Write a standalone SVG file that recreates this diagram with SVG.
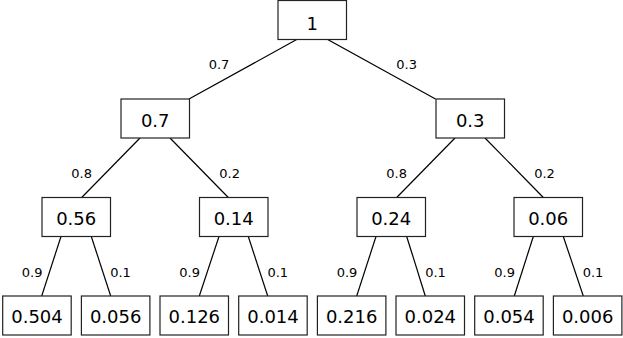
<svg xmlns="http://www.w3.org/2000/svg" width="623" height="338" viewBox="0 0 623 338">
<style>
rect{fill:#fff;stroke:#222;stroke-width:1.2}
.n{font-family:"DejaVu Sans",sans-serif;font-size:18px;text-anchor:middle;fill:#000}
.e{font-family:"DejaVu Sans",sans-serif;font-size:13px;text-anchor:middle;fill:#000}
line{stroke:#000;stroke-width:1.2}
</style>
<rect x="0" y="0" width="623" height="338" style="fill:#fff;stroke:none"/>
<g id="connectors">
<line x1="296.7" y1="39.5" x2="189" y2="99"/>
<line x1="327.7" y1="39.5" x2="435.5" y2="99"/>
<line x1="140" y1="138" x2="81.7" y2="197.5"/>
<line x1="170" y1="138" x2="228.3" y2="197.5"/>
<line x1="455" y1="138" x2="396.7" y2="197.5"/>
<line x1="485" y1="138" x2="543.3" y2="197.5"/>
<line x1="61" y1="236.5" x2="41.7" y2="296"/>
<line x1="91.3" y1="236.5" x2="110.7" y2="296"/>
<line x1="219" y1="236.5" x2="199.3" y2="296"/>
<line x1="248.3" y1="236.5" x2="267.7" y2="296"/>
<line x1="376" y1="236.5" x2="356.7" y2="296"/>
<line x1="406.7" y1="236.5" x2="425.3" y2="296"/>
<line x1="533.3" y1="236.5" x2="514.3" y2="296"/>
<line x1="563.3" y1="236.5" x2="583.3" y2="296"/>
<text class="e" x="219" y="69">0.7</text>
<text class="e" x="406.7" y="69">0.3</text>
<text class="e" x="81.7" y="178">0.8</text>
<text class="e" x="229.7" y="178">0.2</text>
<text class="e" x="396.7" y="178">0.8</text>
<text class="e" x="544.5" y="178">0.2</text>
<text class="e" x="32.2" y="276.7">0.9</text>
<text class="e" x="120.5" y="276.7">0.1</text>
<text class="e" x="189.7" y="276.7">0.9</text>
<text class="e" x="277.8" y="276.7">0.1</text>
<text class="e" x="347" y="276.7">0.9</text>
<text class="e" x="435.5" y="276.7">0.1</text>
<text class="e" x="504.7" y="276.7">0.9</text>
<text class="e" x="593" y="276.7">0.1</text>
</g>
<g id="n1"><rect x="278" y="0.5" width="68.5" height="39"/><text class="n" x="312.2" y="30">1</text></g>
<g id="n07"><rect x="121" y="99" width="68.5" height="39"/><text class="n" x="155.2" y="126.7">0.7</text></g>
<g id="n03"><rect x="436" y="99" width="68.5" height="39"/><text class="n" x="470.2" y="126.7">0.3</text></g>
<g id="n056"><rect x="42" y="197.5" width="68.5" height="39"/><text class="n" x="76.2" y="225">0.56</text></g>
<g id="n014"><rect x="199.5" y="197.5" width="68.5" height="39"/><text class="n" x="233.7" y="225">0.14</text></g>
<g id="n024"><rect x="357" y="197.5" width="68.5" height="39"/><text class="n" x="391.2" y="225">0.24</text></g>
<g id="n006"><rect x="514" y="197.5" width="68.5" height="39"/><text class="n" x="548.2" y="225">0.06</text></g>
<g id="l0504"><rect x="2.7" y="296" width="68.5" height="39"/><text class="n" x="37" y="323.3">0.504</text></g>
<g id="l0056"><rect x="81.4" y="296" width="68.5" height="39"/><text class="n" x="115.7" y="323.3">0.056</text></g>
<g id="l0126"><rect x="160" y="296" width="68.5" height="39"/><text class="n" x="194.3" y="323.3">0.126</text></g>
<g id="l0014"><rect x="238.7" y="296" width="68.5" height="39"/><text class="n" x="273" y="323.3">0.014</text></g>
<g id="l0216"><rect x="317.4" y="296" width="68.5" height="39"/><text class="n" x="351.7" y="323.3">0.216</text></g>
<g id="l0024"><rect x="396" y="296" width="68.5" height="39"/><text class="n" x="430.3" y="323.3">0.024</text></g>
<g id="l0054"><rect x="474.7" y="296" width="68.5" height="39"/><text class="n" x="509" y="323.3">0.054</text></g>
<g id="l0006"><rect x="553.4" y="296" width="68.5" height="39"/><text class="n" x="587.7" y="323.3">0.006</text></g>
</svg>
